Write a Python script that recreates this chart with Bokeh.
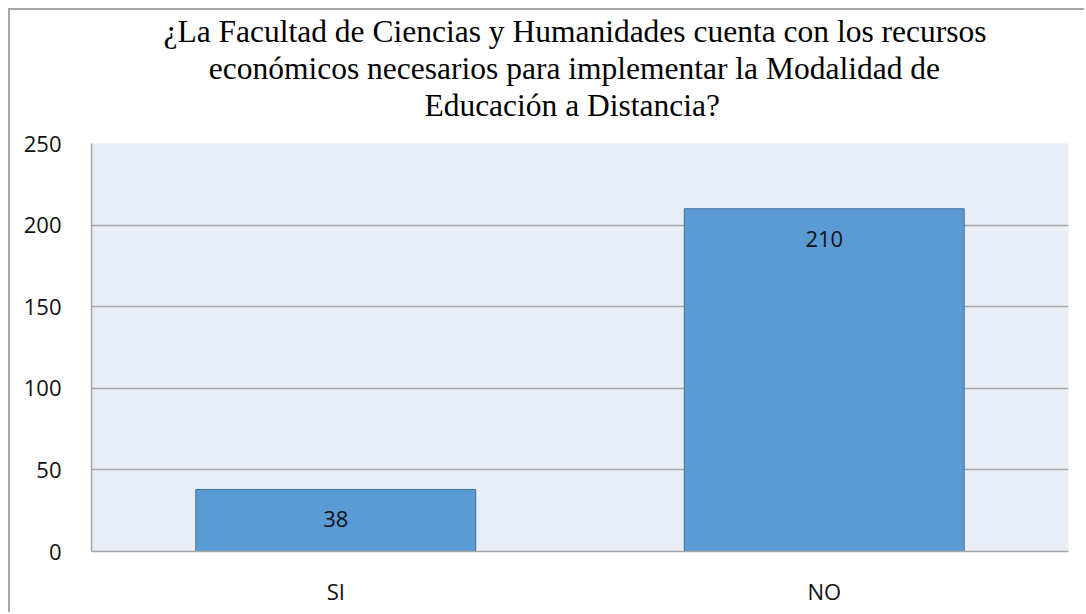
from bokeh.plotting import figure
from bokeh.models import ColumnDataSource, Title, FixedTicker
from bokeh.core.properties import value
from bokeh.embed import file_html
from bokeh.resources import INLINE

categories = ["SI", "NO"]
counts = [38, 210]
title_lines = [
    "¿La Facultad de Ciencias y Humanidades cuenta con los recursos",
    "económicos necesarios para implementar la Modalidad de",
    "Educación a Distancia?",
]
y_ticks = [0, 50, 100, 150, 200, 250]

src = ColumnDataSource(data=dict(cat=categories, val=counts, lab=[str(v) for v in counts]))

p = figure(x_range=categories, y_range=(0, 250), width=1076, height=604,
           output_backend="svg", toolbar_location=None,
           min_border_left=81, min_border_top=133, min_border_bottom=63, min_border_right=18)
p.styles = {"margin-left": "8px", "margin-top": "8px",
            "border-left": "2px solid #a6a6a6", "border-top": "2px solid #a6a6a6"}
p.outline_line_color = None
p.border_fill_color = "white"
p.background_fill_color = "#e9edf6"

p.vbar(x="cat", top="val", width=0.573, source=src, fill_color="#5b9bd5",
       line_color="#41719c", line_width=1)

p.text(x="cat", y="val", text="lab", source=src, text_align="center",
       text_baseline="middle", y_offset=30, text_font=value("Open Sans"),
       text_font_size="22px", text_color="#111111")

p.xgrid.grid_line_color = None
p.ygrid.grid_line_color = "#a6a6a6"
p.ygrid.grid_line_width = 1.5
p.yaxis.ticker = FixedTicker(ticks=y_ticks)

for ax in (p.xaxis, p.yaxis):
    ax.axis_line_color = "#a6a6a6"
    ax.axis_line_width = 1.5
    ax.major_tick_line_color = None
    ax.minor_tick_line_color = None
    ax.major_label_text_font = "Open Sans"
    ax.major_label_text_font_size = "22px"
    ax.major_label_text_color = "#111111"
p.yaxis.major_label_standoff = 24
p.xaxis.major_label_standoff = 18

# spacer between the title block and the plot area
p.add_layout(Title(text=" ", text_font_size="1px", standoff=18), "above")

right_offsets = [82, 128.5, 348.5]
for line, off in reversed(list(zip(title_lines, right_offsets))):
    p.add_layout(Title(text=line, align="right", offset=off, standoff=0,
                       text_font="Liberation Serif", text_font_size="31.5px",
                       text_font_style="normal", text_color="#000000"), "above")

open("out.html", "w").write(file_html(p, INLINE))
